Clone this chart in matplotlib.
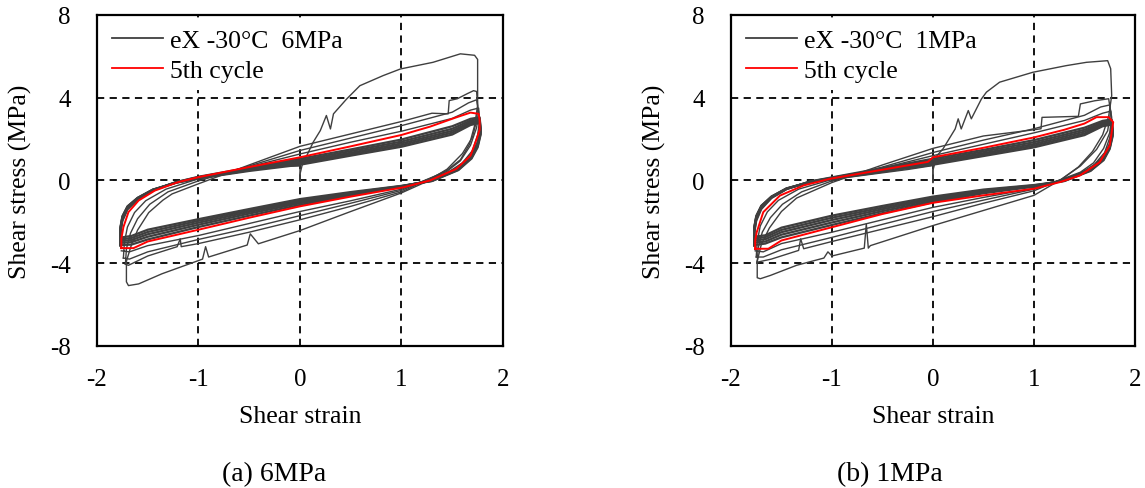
import matplotlib
matplotlib.use("Agg")
import matplotlib.pyplot as plt
from matplotlib.lines import Line2D

plt.rcParams['font.family'] = ['Liberation Serif', 'DejaVu Serif']
plt.rcParams['axes.unicode_minus'] = False

# ---------------- (a) 6MPa : cycles ----------------
a_c1_strain = [0.00, 0.00, 0.02, 0.13, 0.20, 0.26, 0.30, 0.33, 0.46, 0.59, 0.82, 0.99, 1.31, 1.58, 1.72,
               1.75, 1.75, 1.74, 1.70, 1.60, 1.45, 1.25, 1.00, 0.50, 0.00, -0.41, -0.49, -0.52, -0.90,
               -0.93, -0.96, -1.36, -1.59, -1.69, -1.71, -1.71]
a_c1_stress = [0.00, 0.30, 0.72, 1.85, 2.41, 3.14, 2.49, 3.22, 3.94, 4.58, 5.07, 5.39, 5.71, 6.12, 6.05,
               5.85, 3.60, 2.90, 2.10, 1.30, 0.55, -0.05, -0.60, -1.50, -2.42, -3.06, -2.58, -3.12, -3.70,
               -3.20, -3.80, -4.51, -5.00, -5.08, -4.90, -3.90]

a_c2_strain = [-1.71, -1.66, -1.60, -1.49, -1.35, -1.26, -1.00, -0.50, 0.00, 0.50, 1.00, 1.30, 1.46, 1.47,
               1.55, 1.65, 1.71, 1.74, 1.75, 1.72, 1.67, 1.58, 1.45, 1.25, 1.00, 0.50, 0.00, -0.50, -1.00,
               -1.17, -1.18, -1.21, -1.50, -1.69, -1.72]
a_c2_stress = [-3.90, -3.10, -2.40, -1.55, -0.95, -0.65, -0.16, 0.75, 1.65, 2.25, 2.85, 3.25, 3.22, 3.86,
               3.95, 4.20, 4.34, 4.30, 3.60, 2.65, 1.75, 1.00, 0.50, 0.02, -0.55, -1.25, -1.90, -2.50, -3.05,
               -3.20, -2.82, -3.20, -3.65, -4.10, -4.05]

a_c3_strain = [-1.72, -1.71, -1.67, -1.60, -1.48, -1.30, -1.00, -0.50, 0.00, 0.50, 1.00, 1.50, 1.66, 1.74,
               1.76, 1.74, 1.68, 1.58, 1.45, 1.25, 1.00, 0.50, 0.00, -0.50, -1.00, -1.50, -1.68, -1.74]
a_c3_stress = [-4.05, -3.30, -2.55, -1.85, -1.15, -0.55, -0.02, 0.70, 1.45, 2.05, 2.65, 3.30, 3.75, 3.90,
               3.30, 2.55, 1.70, 0.95, 0.45, 0.05, -0.48, -1.10, -1.70, -2.30, -2.85, -3.45, -3.80, -3.75]

a_c4_strain = [-1.74, -1.73, -1.70, -1.63, -1.52, -1.32, -1.00, -0.50, 0.00, 0.50, 1.00, 1.50, 1.68, 1.76,
               1.77, 1.75, 1.70, 1.60, 1.46, 1.26, 1.00, 0.50, 0.00, -0.50, -1.00, -1.50, -1.68, -1.76]
a_c4_stress = [-3.75, -3.00, -2.25, -1.55, -0.98, -0.42, 0.08, 0.66, 1.28, 1.85, 2.38, 3.00, 3.40, 3.50,
               2.90, 2.20, 1.45, 0.85, 0.40, 0.05, -0.42, -0.98, -1.50, -2.08, -2.66, -3.15, -3.45, -3.40]

a_c5_strain = [-1.76, -1.76, -1.74, -1.69, -1.59, -1.43, -1.20, -1.00, -0.50, 0.00, 0.50, 1.00, 1.28, 1.54,
               1.68, 1.76, 1.77, 1.77, 1.74, 1.68, 1.54, 1.28, 1.02, 0.50, 0.00, -0.50, -1.00, -1.50,
               -1.64, -1.76]
a_c5_stress = [-3.27, -2.82, -2.26, -1.53, -0.97, -0.49, -0.08, 0.16, 0.65, 1.12, 1.65, 2.20, 2.60, 3.05,
               3.28, 3.22, 2.90, 2.45, 2.00, 1.20, 0.56, 0.00, -0.33, -0.78, -1.25, -1.80, -2.38, -2.95,
               -3.27, -3.27]

# later cycles (6th - 10th) share one set of strain stations
band_strain = [-1.77, -1.77, -1.75, -1.70, -1.60, -1.45, -1.22, -1.00, -0.50, 0.00, 0.50, 1.00, 1.50, 1.68,
               1.77, 1.78, 1.75, 1.69, 1.56, 1.30, 1.00, 0.50, 0.00, -0.50, -1.00, -1.50, -1.66, -1.77]
a_c6_stress = [-3.15, -2.55, -1.95, -1.40, -0.92, -0.48, -0.08, 0.18, 0.62, 1.05, 1.50, 1.98, 2.62, 2.98,
               3.05, 2.50, 1.85, 1.25, 0.62, 0.02, -0.30, -0.72, -1.18, -1.70, -2.25, -2.85, -3.10, -3.12]
a_c7_stress = [-3.12, -2.50, -1.90, -1.36, -0.90, -0.47, -0.08, 0.16, 0.58, 0.97, 1.42, 1.88, 2.50, 2.90,
               2.98, 2.42, 1.78, 1.20, 0.58, 0.00, -0.29, -0.68, -1.10, -1.60, -2.14, -2.72, -2.98, -3.02]
a_c8_stress = [-3.02, -2.42, -1.84, -1.32, -0.88, -0.46, -0.09, 0.14, 0.54, 0.90, 1.34, 1.79, 2.40, 2.82,
               2.90, 2.35, 1.72, 1.15, 0.55, -0.01, -0.28, -0.64, -1.03, -1.52, -2.04, -2.60, -2.88, -2.93]
a_c9_stress = [-2.93, -2.35, -1.79, -1.29, -0.86, -0.45, -0.10, 0.12, 0.50, 0.83, 1.27, 1.71, 2.31, 2.75,
               2.84, 2.28, 1.66, 1.10, 0.52, -0.02, -0.27, -0.60, -0.97, -1.45, -1.95, -2.49, -2.78, -2.85]
a_c10_stress = [-2.85, -2.28, -1.74, -1.26, -0.84, -0.44, -0.11, 0.10, 0.46, 0.76, 1.20, 1.63, 2.22, 2.68,
                2.78, 2.22, 1.60, 1.06, 0.50, -0.03, -0.26, -0.56, -0.90, -1.38, -1.87, -2.38, -2.68, -2.76]

end_strain = [-1.77, -1.77, -1.75, -1.70, -1.60, -1.45, -1.22, -1.00, -0.25, 0.00, 0.00]
a_end_stress = [-2.76, -2.22, -1.70, -1.23, -0.82, -0.43, -0.12, 0.08, 0.68, 0.70, 0.02]

# ---------------- (b) 1MPa ----------------
b_c1_strain = [0.00, 0.00, 0.04, 0.10, 0.22, 0.25, 0.28, 0.35, 0.38, 0.48, 0.53, 0.66, 0.99, 1.32, 1.52,
               1.73, 1.76, 1.77, 1.74, 1.68, 1.58, 1.44, 1.27, 1.00, 0.50, 0.00, -0.62, -0.64, -0.66, -0.68,
               -1.00, -1.04, -1.08, -1.35, -1.61, -1.71, -1.74, -1.74]
b_c1_stress = [-0.10, 0.50, 1.20, 1.53, 2.49, 2.98, 2.49, 3.38, 2.98, 3.94, 4.27, 4.75, 5.23, 5.55, 5.71,
               5.79, 5.40, 4.10, 3.10, 2.20, 1.40, 0.65, 0.05, -0.72, -1.45, -2.18, -3.15, -3.27, -2.10, -3.27,
               -3.65, -3.45, -3.75, -4.10, -4.59, -4.75, -4.70, -3.90]

b_c2_strain = [-1.74, -1.70, -1.62, -1.50, -1.35, -1.00, -0.50, 0.00, 0.50, 1.00, 1.07, 1.08, 1.44, 1.46,
               1.60, 1.74, 1.76, 1.73, 1.62, 1.46, 1.27, 1.00, 0.50, 0.00, -0.50, -1.00, -1.28, -1.31,
               -1.33, -1.60, -1.74]
b_c2_stress = [-3.90, -3.10, -2.30, -1.50, -0.85, -0.10, 0.75, 1.55, 2.15, 2.45, 2.50, 3.05, 3.10, 3.70,
               3.85, 3.95, 3.30, 2.40, 1.50, 0.70, 0.05, -0.50, -1.10, -1.75, -2.35, -2.95, -3.30, -2.82,
               -3.38, -3.80, -3.95]

b_c3_strain = [-1.74, -1.73, -1.69, -1.61, -1.49, -1.30, -1.00, -0.50, 0.00, 0.50, 1.00, 1.50, 1.66, 1.75,
               1.77, 1.75, 1.69, 1.59, 1.46, 1.27, 1.00, 0.50, 0.00, -0.50, -1.00, -1.50, -1.68, -1.75]
b_c3_stress = [-3.95, -3.25, -2.50, -1.80, -1.15, -0.55, -0.02, 0.65, 1.35, 1.95, 2.50, 3.15, 3.55, 3.65,
               3.05, 2.30, 1.55, 0.85, 0.40, 0.05, -0.42, -0.95, -1.50, -2.12, -2.75, -3.35, -3.70, -3.70]

b_c4_strain = [-1.75, -1.74, -1.71, -1.64, -1.53, -1.33, -1.00, -0.50, 0.00, 0.50, 1.00, 1.50, 1.68, 1.76,
               1.77, 1.75, 1.70, 1.60, 1.46, 1.27, 1.00, 0.50, 0.00, -0.50, -1.00, -1.50, -1.68, -1.76]
b_c4_stress = [-3.70, -2.95, -2.20, -1.52, -0.96, -0.42, 0.05, 0.60, 1.20, 1.75, 2.30, 2.90, 3.25, 3.35,
               2.75, 2.05, 1.35, 0.78, 0.35, 0.02, -0.38, -0.82, -1.30, -1.90, -2.50, -3.05, -3.45, -3.40]

b_c5_strain = [-1.76, -1.76, -1.745, -1.68, -1.515, -1.28, -1.02, -0.50, -0.05, 0.00, 0.50, 1.00, 1.30,
               1.50, 1.62, 1.74, 1.785, 1.75, 1.65, 1.455, 1.257, 1.00, 0.50, 0.00, -0.50, -1.00, -1.50,
               -1.63, -1.76]
b_c5_stress = [-3.30, -2.90, -2.50, -1.53, -0.73, -0.24, 0.08, 0.52, 0.90, 1.12, 1.58, 2.08, 2.45, 2.75,
               3.06, 3.06, 2.82, 1.69, 0.88, 0.24, -0.08, -0.40, -0.72, -1.08, -1.62, -2.26, -2.90, -3.30,
               -3.30]

b_c6_stress = [-3.15, -2.55, -1.95, -1.38, -0.85, -0.42, -0.05, 0.15, 0.60, 1.05, 1.48, 1.95, 2.55, 2.88,
               2.95, 2.40, 1.75, 1.15, 0.55, 0.02, -0.30, -0.62, -1.05, -1.58, -2.15, -2.75, -3.05, -3.12]
b_c7_stress = [-3.05, -2.48, -1.88, -1.33, -0.83, -0.41, -0.06, 0.13, 0.55, 0.97, 1.40, 1.85, 2.45, 2.81,
               2.88, 2.33, 1.68, 1.10, 0.52, 0.00, -0.28, -0.57, -0.98, -1.48, -2.03, -2.62, -2.95, -3.00]
b_c8_stress = [-2.95, -2.40, -1.82, -1.29, -0.81, -0.40, -0.07, 0.11, 0.50, 0.90, 1.32, 1.76, 2.36, 2.74,
               2.82, 2.27, 1.62, 1.06, 0.50, -0.01, -0.26, -0.52, -0.91, -1.39, -1.91, -2.50, -2.84, -2.90]
b_c9_stress = [-2.87, -2.33, -1.77, -1.26, -0.79, -0.39, -0.08, 0.09, 0.46, 0.83, 1.25, 1.68, 2.27, 2.68,
               2.76, 2.21, 1.57, 1.02, 0.48, -0.02, -0.24, -0.48, -0.85, -1.31, -1.80, -2.39, -2.74, -2.80]
b_c10_stress = [-2.80, -2.27, -1.73, -1.23, -0.78, -0.38, -0.09, 0.07, 0.42, 0.76, 1.18, 1.60, 2.19, 2.62,
                2.70, 2.15, 1.52, 0.98, 0.46, -0.03, -0.22, -0.44, -0.78, -1.23, -1.70, -2.28, -2.65, -2.72]

b_end_stress = [-2.72, -2.20, -1.68, -1.20, -0.77, -0.38, -0.10, 0.05, 0.53, 0.72, -0.08]

# ---------------- axis settings ----------------
x_ticks = [-2, -1, 0, 1, 2]
y_ticks = [-8, -4, 0, 4, 8]
grid_x = [-1, 0, 1]
grid_y = [-4, 0, 4]

panels = [
    dict(pos=[0.0847, 0.2904, 0.3546, 0.677], label='eX -30\u00b0C  6MPa', caption='(a) 6MPa', cap_x=0.239,
         cycles=[(a_c1_strain, a_c1_stress), (a_c2_strain, a_c2_stress), (a_c3_strain, a_c3_stress),
                 (a_c4_strain, a_c4_stress)],
         band=[a_c6_stress, a_c7_stress, a_c8_stress, a_c9_stress, a_c10_stress],
         end=a_end_stress, red=(a_c5_strain, a_c5_stress)),
    dict(pos=[0.6384, 0.2904, 0.3528, 0.677], label='eX -30\u00b0C  1MPa', caption='(b) 1MPa', cap_x=0.777,
         cycles=[(b_c1_strain, b_c1_stress), (b_c2_strain, b_c2_stress), (b_c3_strain, b_c3_stress),
                 (b_c4_strain, b_c4_stress)],
         band=[b_c6_stress, b_c7_stress, b_c8_stress, b_c9_stress, b_c10_stress],
         end=b_end_stress, red=(b_c5_strain, b_c5_stress)),
]

gray = '#3f3f3f'
fig = plt.figure(figsize=(11.45, 4.89), dpi=100)

for p in panels:
    ax = fig.add_axes(p['pos'])
    for s, t in p['cycles']:
        ax.plot(s, t, color=gray, lw=1.0, zorder=3)
    for t in p['band']:
        ax.plot(band_strain, t, color=gray, lw=1.6, zorder=3)
    ax.plot(end_strain, p['end'], color=gray, lw=1.0, zorder=3)
    ax.plot(p['red'][0], p['red'][1], color='#ff0000', lw=1.4, zorder=4)

    for g in grid_x:
        ax.axvline(g, color='black', lw=1.3, ls=(0, (4, 3)), zorder=1)
    for g in grid_y:
        ax.axhline(g, color='black', lw=1.3, ls=(0, (4, 3)), zorder=1)

    ax.set_xlim(-2, 2)
    ax.set_ylim(-8, 8)
    ax.set_xticks(x_ticks)
    ax.set_yticks(y_ticks)
    ax.tick_params(axis='both', length=0, labelsize=18)
    ax.tick_params(axis='y', pad=19)
    ax.tick_params(axis='x', pad=16)
    for sp in ax.spines.values():
        sp.set_linewidth(1.6)

    ax.set_xlabel('Shear strain', fontsize=18.5)
    ax.set_ylabel('Shear stress (MPa)', fontsize=18.5)
    ax.xaxis.set_label_coords(0.5, -0.178)
    ax.yaxis.set_label_coords(-0.16, 0.5)

    handles = [Line2D([], [], color=gray, lw=1.3), Line2D([], [], color='#ff0000', lw=1.3)]
    leg = ax.legend(handles, [p['label'], '5th cycle'], loc='upper left', bbox_to_anchor=(0.005, 0.995),
                    frameon=True, fontsize=18.5, handlelength=2.0, handletextpad=0.25, labelspacing=0.25,
                    borderaxespad=0.2, borderpad=0.3)
    leg.get_frame().set_edgecolor('none')
    leg.get_frame().set_facecolor('white')
    leg.get_frame().set_alpha(1.0)
    leg.set_zorder(5)

    fig.text(p['cap_x'], 0.03, p['caption'], fontsize=20, ha='center', va='center')

fig.savefig('out.png', dpi=100)
